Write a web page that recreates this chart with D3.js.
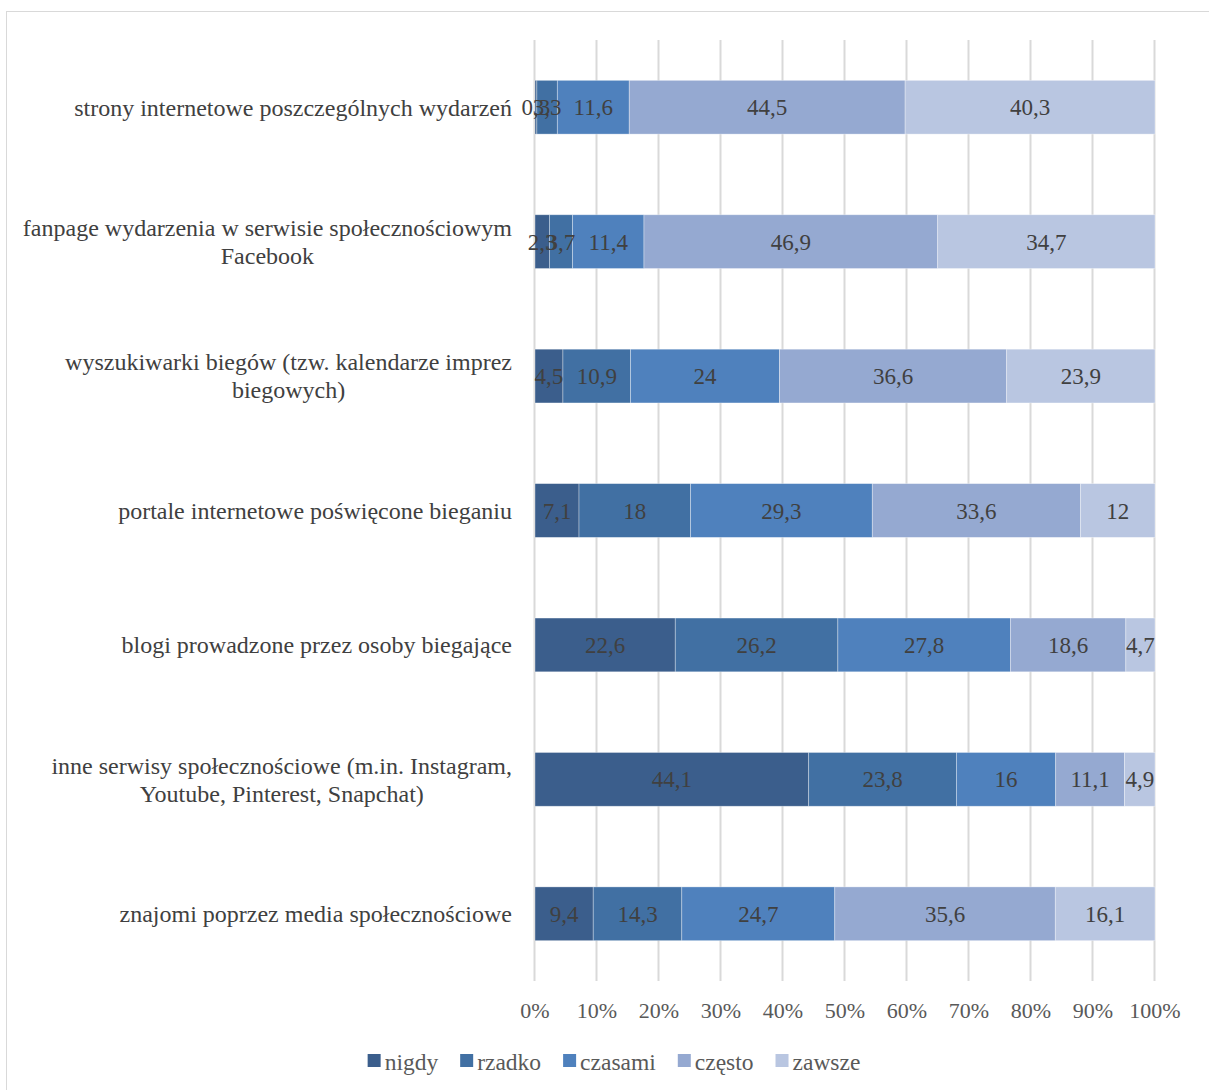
<!DOCTYPE html>
<html>
<head>
<meta charset="utf-8">
<script src="https://cdn.jsdelivr.net/npm/d3@7"></script>
<style>
  html, body { margin: 0; padding: 0; background: #fff; }
  svg { display: block; }
</style>
</head>
<body>
<svg id="chart" width="1209" height="1090"></svg>
<script>
// Categories (top to bottom); "\n" marks a manual line break
const categories = [
  "strony internetowe poszczególnych wydarzeń",
  "fanpage wydarzenia w serwisie społecznościowym\nFacebook",
  "wyszukiwarki biegów (tzw. kalendarze imprez\nbiegowych)",
  "portale internetowe poświęcone bieganiu",
  "blogi prowadzone przez osoby biegające",
  "inne serwisy społecznościowe (m.in. Instagram,\nYoutube, Pinterest, Snapchat)",
  "znajomi poprzez media społecznościowe"
];

const seriesNames = ["nigdy", "rzadko", "czasami", "często", "zawsze"];

// Percent values per series, in category order
const nigdy   = [0.3, 2.3, 4.5, 7.1, 22.6, 44.1, 9.4];
const rzadko  = [3.3, 3.7, 10.9, 18, 26.2, 23.8, 14.3];
const czasami = [11.6, 11.4, 24, 29.3, 27.8, 16, 24.7];
const czesto  = [44.5, 46.9, 36.6, 33.6, 18.6, 11.1, 35.6];
const zawsze  = [40.3, 34.7, 23.9, 12, 4.7, 4.9, 16.1];

const tickValues = [0, 0.1, 0.2, 0.3, 0.4, 0.5, 0.6, 0.7, 0.8, 0.9, 1];

const colors = ["#3b5e8c", "#4170a3", "#4f81bd", "#95a9d1", "#b9c6e1"];

const seriesValues = [nigdy, rzadko, czasami, czesto, zawsze];

const svg = d3.select("#chart");
const serif = "'Liberation Serif', 'Times New Roman', serif";

// chart frame
svg.append("rect")
  .attr("x", 6.5).attr("y", 11.5)
  .attr("width", 1220).attr("height", 1100)
  .attr("fill", "none").attr("stroke", "#d9d9d9").attr("stroke-width", 1);

const plot = { left: 535, right: 1155, top: 40, bottom: 981 };

const x = d3.scaleLinear().domain([0, 1]).range([plot.left, plot.right]);
const y = d3.scaleBand().domain(categories)
  .range([plot.top, plot.bottom])
  .paddingInner(0.6).paddingOuter(0.3);

// 100% stacked layout
const rows = categories.map((c, i) => {
  const r = { cat: c };
  seriesNames.forEach((s, j) => { r[s] = seriesValues[j][i]; });
  return r;
});
const stack = d3.stack().keys(seriesNames).offset(d3.stackOffsetExpand);
const layers = stack(rows);

// vertical gridlines
svg.append("g")
  .selectAll("line")
  .data(tickValues)
  .join("line")
  .attr("x1", d => x(d) - 0.5).attr("x2", d => x(d) - 0.5)
  .attr("y1", plot.top).attr("y2", plot.bottom)
  .attr("stroke", "#d9d9d9").attr("stroke-width", 2);

// bars
const layerG = svg.append("g")
  .selectAll("g")
  .data(layers)
  .join("g")
  .attr("fill", (d, i) => colors[i]);

layerG.selectAll("rect")
  .data(d => d)
  .join("rect")
  .attr("x", d => x(d[0]))
  .attr("width", d => x(d[1]) - x(d[0]))
  .attr("y", d => y(d.data.cat))
  .attr("height", y.bandwidth())
  .attr("stroke", "rgba(255,255,255,0.45)")
  .attr("stroke-width", 0.75);

// data labels
const fmt = v => String(v).replace(".", ",");
layers.forEach((layer, i) => {
  svg.append("g")
    .selectAll("text")
    .data(layer)
    .join("text")
    .attr("x", d => (x(d[0]) + x(d[1])) / 2)
    .attr("y", d => y(d.data.cat) + y.bandwidth() / 2)
    .attr("dy", "0.35em")
    .attr("text-anchor", "middle")
    .attr("font-family", serif)
    .attr("font-size", 23)
    .attr("fill", "#404040")
    .text(d => fmt(d.data[layer.key]));
});

// category labels: right aligned block, lines centered within it
const labelRight = 512;
categories.forEach(c => {
  const lines = c.split("\n");
  const g = svg.append("g");
  const lh = 28;
  const cy = y(c) + y.bandwidth() / 2;
  const texts = lines.map((ln, k) => g.append("text")
    .attr("y", cy + (k - (lines.length - 1) / 2) * lh)
    .attr("dy", "0.35em")
    .attr("font-family", serif)
    .attr("font-size", 24)
    .attr("fill", "#404040")
    .attr("text-anchor", "middle")
    .text(ln));
  const maxW = d3.max(texts, t => t.node().getComputedTextLength());
  texts.forEach(t => t.attr("x", labelRight - maxW / 2));
});

// x axis tick labels
svg.append("g")
  .selectAll("text")
  .data(tickValues)
  .join("text")
  .attr("x", d => x(d))
  .attr("y", 1010)
  .attr("dy", "0.35em")
  .attr("text-anchor", "middle")
  .attr("font-family", serif)
  .attr("font-size", 22)
  .attr("fill", "#595959")
  .text(d => d3.format(".0%")(d));

// legend
const legend = svg.append("g");
let lx = 0;
seriesNames.forEach((s, i) => {
  const g = legend.append("g").attr("transform", `translate(${lx},0)`);
  g.append("rect").attr("x", 0).attr("y", -8).attr("width", 13).attr("height", 13)
    .attr("fill", colors[i]);
  const t = g.append("text").attr("x", 17).attr("y", 0).attr("dy", "0.35em")
    .attr("font-family", serif).attr("font-size", 23.5).attr("fill", "#595959")
    .text(s);
  lx += 17 + t.node().getComputedTextLength() + 22;
});
const legendW = lx - 22;
legend.attr("transform", `translate(${(365 + 863) / 2 - legendW / 2},1062)`);
</script>
</body>
</html>
